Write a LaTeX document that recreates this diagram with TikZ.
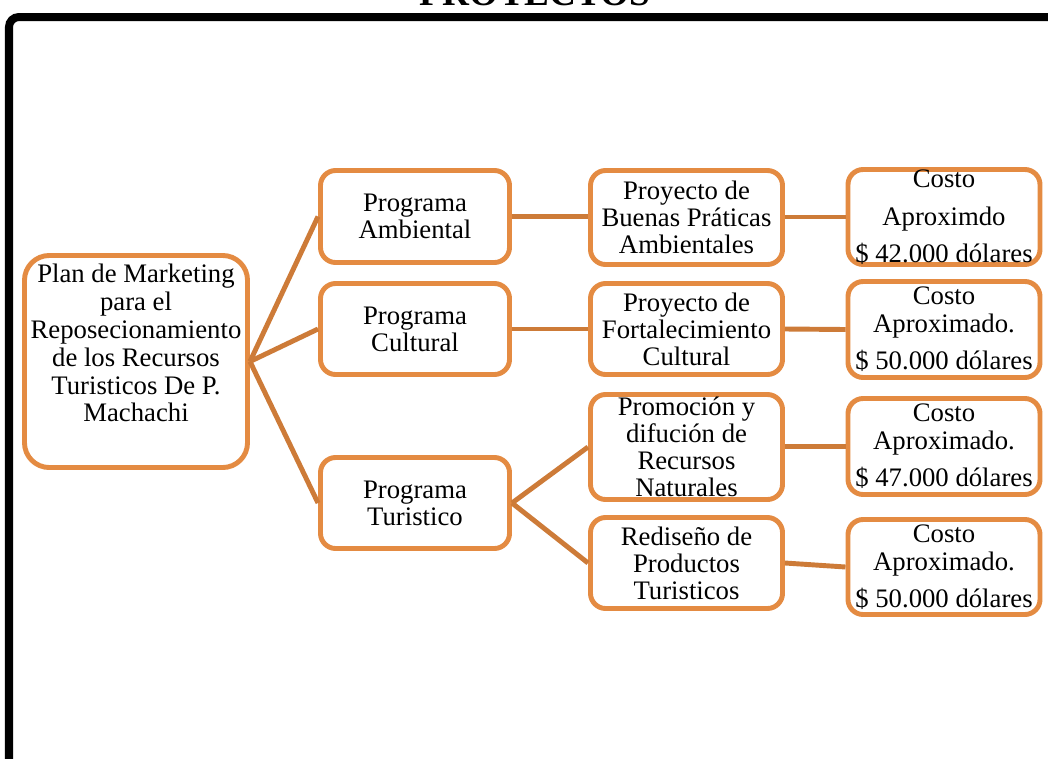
\documentclass[tikz,border=0pt]{standalone}
\usepackage{fontspec}
\setmainfont{Liberation Serif}
\usetikzlibrary{positioning, calc}
\definecolor{BoxColor}{RGB}{228,139,66}
\definecolor{LinkColor}{RGB}{205,123,56}

\begin{document}
\begin{tikzpicture}[x=0.025cm, y=-0.025cm,
    box/.style={draw=BoxColor, line width=3.5pt, rounded corners=0.38cm, fill=white,
      align=center, inner sep=0pt, minimum width=4.8cm, minimum height=2.3cm,
      font=\fontsize{19}{19.2}\selectfont},
    costbox/.style={box, font=\fontsize{19}{19.9}\selectfont},
    link/.style={draw=LinkColor, line width=3.5pt}]
  \useasboundingbox (0,0) rectangle (1048,758);

  % frame and title
  \draw[line width=0.2cm, rounded corners=0.25cm] (1100,17) -- (9,17) -- (9,800);
  \node[font=\bfseries\fontsize{26.5}{28}\selectfont, anchor=base] (title) at (535,5) {PROYECTOS};

  % root
  \node[box, rounded corners=0.62cm, minimum width=5.575cm, minimum height=5.3cm] (plan) at (136,361.5) {};
  \node[align=center, font=\fontsize{19}{19.8}\selectfont] (planText) at ([yshift=0.46cm]plan.center)
    {Plan de Marketing\\para el\\Reposecionamiento\\de los Recursos\\Turisticos De P.\\Machachi};

  % programas
  \node[box, minimum width=4.725cm] (ambiental) at (415,216.5) {Programa\\Ambiental};
  \node[box, minimum width=4.725cm, minimum height=2.275cm] (cultural) at (415,329) {Programa\\Cultural};
  \node[box, minimum width=4.725cm, minimum height=2.275cm] (turistico) at (415,503) {Programa\\Turistico};

  % proyectos
  \node[box, minimum height=2.35cm] (buenas) at (686.5,217.5) {Proyecto de\\Buenas Práticas\\Ambientales};
  \node[box, minimum height=2.275cm] (fortalec) at (686.5,329) {Proyecto de\\Fortalecimiento\\Cultural};
  \node[box, minimum height=2.625cm] (promo) at (686.5,447) {Promoción y\\difución de\\Recursos\\Naturales};
  \node[box, minimum height=2.275cm] (rediseno) at (686.5,563) {Rediseño de\\Productos\\Turisticos};

  % costos
  \node[costbox, minimum height=2.375cm] (costoA) at (944,217) {Costo\\[7pt]Aproximdo\\[6.4pt]\$ 42.000 dólares};
  \node[costbox, minimum height=2.4cm] (costoB) at (944,329.5) {Costo\\Aproximado.\\[6.4pt]\$ 50.000 dólares};
  \node[costbox, minimum height=2.4cm] (costoC) at (944,446.5) {Costo\\Aproximado.\\[6.4pt]\$ 47.000 dólares};
  \node[costbox, minimum height=2.375cm] (costoD) at (944,567) {Costo\\Aproximado.\\[6.4pt]\$ 50.000 dólares};

  % connectors
  \draw[link] (plan.east) -- (ambiental.west);
  \draw[link] (plan.east) -- (cultural.west);
  \draw[link] (plan.east) -- (turistico.west);
  \draw[link] (ambiental.east) -- (buenas.west |- ambiental.east);
  \draw[link] (cultural.east) -- (fortalec.west);
  \draw[link] (turistico.east) -- (promo.west);
  \draw[link] (turistico.east) -- (rediseno.west);
  \draw[link] (buenas.east |- costoA.west) -- (costoA.west);
  \draw[link] (fortalec.east) -- (costoB.west);
  \draw[link] (promo.east |- costoC.west) -- (costoC.west);
  \draw[link] (rediseno.east) -- (costoD.west);
\end{tikzpicture}
\end{document}
